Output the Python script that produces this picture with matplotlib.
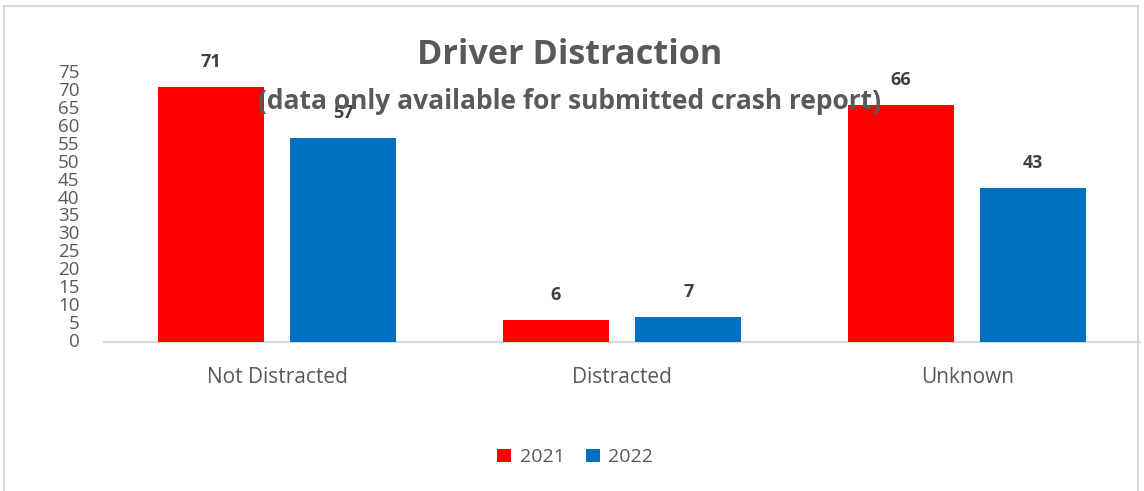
import matplotlib
matplotlib.use("Agg")
import matplotlib.pyplot as plt
import numpy as np
from matplotlib.patches import Rectangle

plt.rcParams['font.family'] = ['Open Sans', 'DejaVu Sans']

categories = ['Not Distracted', 'Distracted', 'Unknown']
years = ['2021', '2022']
values_2021 = [71, 6, 66]
values_2022 = [57, 7, 43]
colors = ['#FF0000', '#0070C0']
text_color = '#595959'

fig = plt.figure(figsize=(11.44, 4.91), dpi=100)
ax = fig.add_axes([0.0913, 0.3035, 0.905, 0.5479])

# chart border
fig.patches.append(Rectangle((0.0035, -0.01), 0.9915, 0.998, transform=fig.transFigure,
                             fill=False, edgecolor='#D9D9D9', linewidth=1.5))

x = np.arange(len(categories))
width = 0.307
offset = 0.1915
for vals, lab, col, sgn in [(values_2021, years[0], colors[0], -1), (values_2022, years[1], colors[1], 1)]:
    bars = ax.bar(x + sgn * offset, vals, width, color=col, label=lab, zorder=3)
    for b, v in zip(bars, vals):
        ax.annotate(str(v), (b.get_x() + b.get_width() / 2, v), xytext=(0, 25),
                    textcoords='offset pixels', ha='center', va='center',
                    fontsize=13, fontweight='bold', color='#404040')

ax.set_xlim(-0.5, 2.5)
ax.set_ylim(0, 75)
ax.set_yticks(range(0, 76, 5))
ax.set_xticks(x)
ax.set_xticklabels(categories, fontsize=15, color=text_color)
ax.tick_params(axis='y', labelsize=13.5, labelcolor=text_color, length=0, pad=18)
ax.tick_params(axis='x', length=0, pad=18)
for s in ['top', 'right', 'left']:
    ax.spines[s].set_visible(False)
ax.spines['bottom'].set_color('#D9D9D9')
ax.spines['bottom'].set_linewidth(1.5)
for t in ax.get_yticklabels():
    t.set_va('center')

fig.text(0.498, 0.888, 'Driver Distraction', ha='center', va='center',
         fontsize=24.7, fontweight='bold', color=text_color)
fig.text(0.498, 0.793, '(data only available for submitted crash report)', ha='center', va='center',
         fontsize=19, fontweight='bold', color=text_color)

fig.legend(loc='center', bbox_to_anchor=(0.503, 0.069), ncol=2, frameon=False,
           fontsize=14, handlelength=0.7, handleheight=0.7, handletextpad=0.45,
           columnspacing=1.1, labelcolor=text_color)

fig.savefig('out.png', dpi=100)
